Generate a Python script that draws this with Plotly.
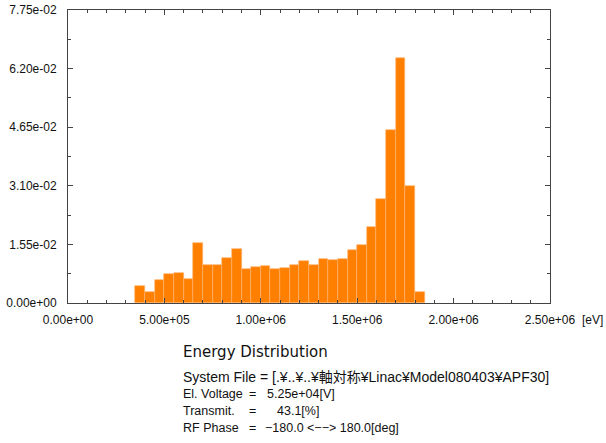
import plotly.graph_objects as go

# Histogram data: bin centers [eV] and normalized counts
bin_width = 5.0e4
bin_centers = [3.75e5, 4.25e5, 4.75e5, 5.25e5, 5.75e5, 6.25e5, 6.75e5, 7.25e5, 7.75e5, 8.25e5,
               8.75e5, 9.25e5, 9.75e5, 1.025e6, 1.075e6, 1.125e6, 1.175e6, 1.225e6, 1.275e6, 1.325e6,
               1.375e6, 1.425e6, 1.475e6, 1.525e6, 1.575e6, 1.625e6, 1.675e6, 1.725e6, 1.775e6, 1.825e6]
counts = [0.0045, 0.0029, 0.0061, 0.0076, 0.0079, 0.0063, 0.0160, 0.0101, 0.0101, 0.0120,
          0.0143, 0.0089, 0.0094, 0.0097, 0.0089, 0.0092, 0.0101, 0.0110, 0.0100, 0.0117,
          0.0115, 0.0117, 0.0140, 0.0153, 0.0200, 0.0275, 0.0458, 0.0649, 0.0309, 0.0029]

x_tickvals = [0, 5e5, 1e6, 1.5e6, 2e6, 2.5e6]
x_ticktext = ["0.00e+00", "5.00e+05", "1.00e+06", "1.50e+06", "2.00e+06", "2.50e+06"]
y_tickvals = [0, 0.0155, 0.031, 0.0465, 0.062, 0.0775]
y_ticktext = ["0.00e+00", "1.55e-02", "3.10e-02", "4.65e-02", "6.20e-02", "7.75e-02"]

title_text = "Energy Distribution"
info_labels = ["El. Voltage", "Transmit.", "RF Phase"]
info_values = ["5.25e+04[V]", "43.1[%]", "\u2212180.0 <\u2212\u2212> 180.0[deg]"]
system_line = "System File = [.¥..¥..¥軸対称¥Linac¥Model080403¥APF30]"

W, H = 606, 443
L, R, T, B = 68, 56, 10, 140
PW, PH = W - L - R, H - T - B

def px(x):
    return (x - L) / PW

def py(y):
    return (H - B - y) / PH

fig = go.Figure()
fig.add_trace(go.Bar(
    x=bin_centers, y=counts, width=[bin_width] * len(bin_centers),
    marker=dict(color="#FF8000", line=dict(color="#FFB470", width=0.6)),
))

tickfont = dict(family="Liberation Sans, Arial, sans-serif", size=12, color="#111")
axis_common = dict(
    showgrid=False, zeroline=False, showline=True, linecolor="#444", linewidth=1,
    mirror="ticks", ticks="inside", ticklen=5, tickcolor="#444", tickwidth=1,
    tickfont=tickfont, automargin=False,
)
fig.update_xaxes(range=[0, 2.5e6], tickmode="array", tickvals=x_tickvals, ticktext=x_ticktext,
                 ticklabelstandoff=6,
                 minor=dict(tickmode="linear", tick0=0, dtick=1e5, ticks="inside", ticklen=3,
                            tickcolor="#444", showgrid=False),
                 **axis_common)
fig.update_yaxes(range=[0, 0.0775], tickmode="array", tickvals=y_tickvals, ticktext=y_ticktext,
                 ticklabelstandoff=8,
                 minor=dict(tickmode="linear", tick0=0, dtick=0.00775, ticks="inside", ticklen=3,
                            tickcolor="#444", showgrid=False),
                 **axis_common)

font_sys = dict(family="Liberation Sans, Noto Sans CJK JP, sans-serif", size=14, color="#111")
font_txt = dict(family="Liberation Sans, Noto Sans CJK JP, sans-serif", size=12.5, color="#111")
base = dict(xref="paper", yref="paper", showarrow=False, yanchor="middle")
ann = []
ann.append(dict(x=px(580), y=py(320), text="[eV]", xanchor="left", font=tickfont, **base))
ann.append(dict(x=px(181), y=py(352), text=title_text, xanchor="left",
                font=dict(family="DejaVu Sans, sans-serif", size=15, color="#111"), **base))
ann.append(dict(x=px(181), y=py(377), text=system_line, xanchor="left", font=font_sys, **base))
rows_y = [394, 411, 428]
value_x = [265, 275, 263]
for lab, val, yy, vx in zip(info_labels, info_values, rows_y, value_x):
    ann.append(dict(x=px(181), y=py(yy), text=lab, xanchor="left", font=font_txt, **base))
    ann.append(dict(x=px(247), y=py(yy), text="=", xanchor="left", font=font_txt, **base))
    ann.append(dict(x=px(vx), y=py(yy), text=val, xanchor="left", font=font_txt, **base))

fig.update_layout(
    width=W, height=H, margin=dict(l=L, r=R, t=T, b=B),
    paper_bgcolor="white", plot_bgcolor="white",
    bargap=0, showlegend=False, annotations=ann,
)
fig.write_html("out.html")
